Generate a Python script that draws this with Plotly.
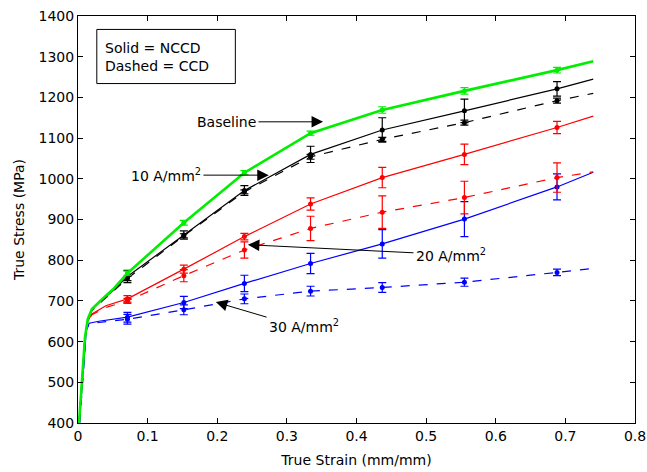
import plotly.graph_objects as go

# ---- data ----
MARK_STRAIN = [0.071, 0.152, 0.239, 0.334, 0.437, 0.555, 0.688]

base_x = [0.0015, 0.006, 0.010, 0.014, 0.020, 0.035, 0.050, 0.071, 0.152, 0.239, 0.334, 0.437, 0.555, 0.688, 0.740]
base_y = [400, 520, 610, 655, 680, 705, 728, 768, 892, 1015, 1112, 1169, 1216, 1267, 1289]
base_m = [768, 892, 1015, 1112, 1169, 1216, 1267]
base_e = [5, 6, 5, 5, 8, 8, 7]

a10s_x = [0.0015, 0.006, 0.010, 0.014, 0.020, 0.035, 0.050, 0.071, 0.152, 0.239, 0.334, 0.437, 0.555, 0.688, 0.740]
a10s_y = [400, 520, 610, 655, 678, 703, 725, 760, 862, 971, 1060, 1120, 1167, 1221, 1245]
a10s_m = [760, 862, 971, 1060, 1120, 1167, 1221]
a10s_e = [15, 10, 12, 20, 30, 29, 18]

a10d_x = [0.0015, 0.006, 0.010, 0.014, 0.020, 0.035, 0.050, 0.071, 0.152, 0.239, 0.334, 0.437, 0.555, 0.688, 0.740]
a10d_y = [400, 520, 610, 655, 676, 700, 722, 755, 860, 968, 1054, 1097, 1138, 1192, 1210]
a10d_m = [755, 860, 968, 1054, 1097, 1138, 1192]
a10d_e = [5, 5, 5, 6, 5, 6, 6]

a20s_x = [0.0015, 0.006, 0.010, 0.014, 0.020, 0.040, 0.071, 0.152, 0.239, 0.334, 0.437, 0.555, 0.688, 0.740]
a20s_y = [400, 520, 610, 650, 668, 688, 705, 778, 858, 938, 1003, 1060, 1126, 1154]
a20s_m = [705, 778, 858, 938, 1003, 1060, 1126]
a20s_e = [8, 10, 8, 15, 25, 25, 15]

a20d_x = [0.0015, 0.006, 0.010, 0.014, 0.020, 0.040, 0.071, 0.152, 0.239, 0.334, 0.437, 0.555, 0.688, 0.740]
a20d_y = [400, 520, 610, 650, 666, 684, 700, 762, 825, 878, 918, 954, 1003, 1017]
a20d_m = [700, 762, 825, 878, 918, 954, 1003]
a20d_e = [6, 15, 20, 30, 40, 40, 36]

a30s_x = [0.0020, 0.006, 0.009, 0.012, 0.016, 0.030, 0.071, 0.152, 0.239, 0.334, 0.437, 0.555, 0.688, 0.740]
a30s_y = [400, 500, 570, 630, 645, 650, 660, 696, 743, 792, 840, 901, 980, 1016]
a30s_m = [660, 696, 743, 792, 840, 901, 980]
a30s_e = [12, 15, 20, 25, 35, 43, 32]

a30d_x = [0.0025, 0.006, 0.009, 0.012, 0.016, 0.030, 0.071, 0.152, 0.239, 0.334, 0.437, 0.555, 0.688, 0.740]
a30d_y = [400, 490, 565, 628, 643, 647, 655, 678, 705, 724, 733, 746, 770, 780]
a30d_m = [655, 678, 705, 724, 733, 746, 770]
a30d_e = [12, 12, 12, 12, 12, 10, 8]

X_TICKS = [0, 0.1, 0.2, 0.3, 0.4, 0.5, 0.6, 0.7, 0.8]
X_LABELS = ["0", "0.1", "0.2", "0.3", "0.4", "0.5", "0.6", "0.7", "0.8"]
Y_TICKS = [400, 500, 600, 700, 800, 900, 1000, 1100, 1200, 1300, 1400]

FONT = "DejaVu Sans, Verdana, sans-serif"
FS = 14

fig = go.Figure()

series = [
    (a30d_x, a30d_y, a30d_m, a30d_e, "#0000ff", "dash", 1.2),
    (a30s_x, a30s_y, a30s_m, a30s_e, "#0000ff", "solid", 1.2),
    (a20d_x, a20d_y, a20d_m, a20d_e, "#ff0000", "dash", 1.2),
    (a20s_x, a20s_y, a20s_m, a20s_e, "#ff0000", "solid", 1.2),
    (a10d_x, a10d_y, a10d_m, a10d_e, "#000000", "dash", 1.2),
    (a10s_x, a10s_y, a10s_m, a10s_e, "#000000", "solid", 1.2),
    (base_x, base_y, base_m, base_e, "#00ee00", "solid", 2.6),
]

for sx, sy, my, me, col, dash, w in series:
    fig.add_trace(go.Scatter(x=sx, y=sy, mode="lines",
                             line=dict(color=col, width=w, dash=dash),
                             showlegend=False, hoverinfo="skip"))
    fig.add_trace(go.Scatter(x=MARK_STRAIN, y=my, mode="markers",
                             marker=dict(color=col, size=5),
                             error_y=dict(type="data", array=me, visible=True,
                                          color=col, thickness=1.2, width=4),
                             showlegend=False, hoverinfo="skip"))

# ---- annotations ----
ann = []
def label(x, y, text, anchor):
    ann.append(dict(x=x, y=y, xref="x", yref="y", text=text, showarrow=False,
                    xanchor=anchor, yanchor="middle",
                    font=dict(family=FONT, size=FS, color="black")))

def arrow(x_tip, y_tip, x_tail, y_tail):
    ann.append(dict(x=x_tip, y=y_tip, ax=x_tail, ay=y_tail, xref="x", yref="y",
                    axref="x", ayref="y", text="", showarrow=True,
                    arrowhead=2, arrowsize=2.3, arrowwidth=1, arrowcolor="black"))

label(0.258, 1140, "Baseline", "right")
arrow(0.352, 1140, 0.257, 1140)
label(0.180, 1010, "10 A/mm<sup>2</sup>", "right")
arrow(0.274, 1009, 0.178, 1009)
label(0.483, 812, "20 A/mm<sup>2</sup>", "left")
arrow(0.244, 838, 0.484, 818)
label(0.272, 638, "30 A/mm<sup>2</sup>", "left")
arrow(0.198, 697, 0.273, 659)

ann.append(dict(x=0.036, y=1300, xref="x", yref="y", showarrow=False,
                text="Solid = NCCD<br>Dashed = CCD", align="left",
                xanchor="left", yanchor="middle",
                font=dict(family=FONT, size=FS, color="black")))

fig.update_layout(
    annotations=ann,
    shapes=[dict(type="rect", xref="x", yref="y", x0=0.027, x1=0.226,
                 y0=1234, y1=1367, line=dict(color="black", width=1),
                 fillcolor="rgba(0,0,0,0)")],
    width=647, height=472,
    margin=dict(l=78, r=12, t=16, b=49),
    paper_bgcolor="white", plot_bgcolor="white",
    font=dict(family=FONT, size=FS, color="black"),
    xaxis=dict(range=[0, 0.8], tickvals=X_TICKS, ticktext=X_LABELS,
               automargin=False,
               showgrid=False, zeroline=False, showline=True, linecolor="black",
               linewidth=1, mirror="ticks", ticks="inside", ticklen=5,
               tickcolor="black", tickfont=dict(family=FONT, size=FS),
               title=dict(text="True Strain (mm/mm)", standoff=12,
                          font=dict(family=FONT, size=FS))),
    yaxis=dict(range=[400, 1400], tickvals=Y_TICKS,
               automargin=False,
               showgrid=False, zeroline=False, showline=True, linecolor="black",
               linewidth=1, mirror="ticks", ticks="inside", ticklen=5,
               tickcolor="black", tickfont=dict(family=FONT, size=FS),
               title=dict(text="True Stress (MPa)", standoff=10,
                          font=dict(family=FONT, size=FS))),
)

fig.write_html("out.html")
